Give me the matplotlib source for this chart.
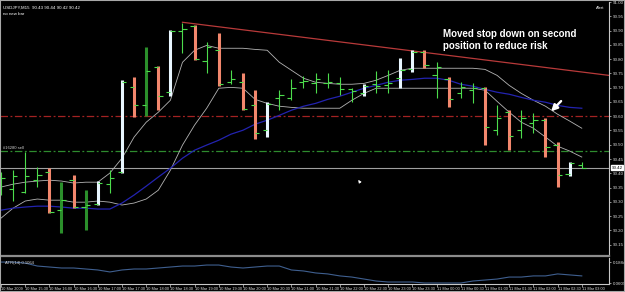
import matplotlib
matplotlib.use("Agg")
import matplotlib.pyplot as plt
from matplotlib.patches import Rectangle
from matplotlib.transforms import blended_transform_factory

plt.rcParams['font.family'] = ['Liberation Sans', 'DejaVu Sans']

# USDJPY M15, one bar per 15 minutes starting 10 Mar 2009 15:00
opens = [90.359, 90.345, 90.334, 90.376, 90.404, 90.271, 90.376, 90.282, 90.292, 90.362,
         90.404, 90.701, 90.638, 90.771, 90.684, 90.897, 90.915, 90.792, 90.831, 90.719,
         90.719, 90.638, 90.551, 90.663, 90.663, 90.719, 90.715, 90.715, 90.715, 90.694,
         90.680, 90.712, 90.708, 90.733, 90.764, 90.824, 90.743, 90.729, 90.680, 90.691,
         90.698, 90.551, 90.614, 90.551, 90.576, 90.586, 90.499, 90.397, 90.43]
highs = [90.404, 90.411, 90.474, 90.422, 90.418, 90.369, 90.394, 90.341, 90.373, 90.411,
         90.726, 90.736, 90.841, 90.775, 90.901, 90.925, 90.918, 90.859, 90.890, 90.761,
         90.750, 90.691, 90.649, 90.691, 90.729, 90.740, 90.750, 90.750, 90.736, 90.698,
         90.712, 90.757, 90.761, 90.803, 90.831, 90.831, 90.789, 90.736, 90.719, 90.715,
         90.701, 90.638, 90.621, 90.621, 90.610, 90.593, 90.509, 90.439, 90.44]
lows = [90.324, 90.303, 90.331, 90.352, 90.261, 90.191, 90.278, 90.201, 90.289, 90.331,
        90.401, 90.597, 90.600, 90.621, 90.670, 90.820, 90.796, 90.750, 90.705, 90.712,
        90.621, 90.520, 90.527, 90.621, 90.656, 90.698, 90.680, 90.698, 90.673, 90.649,
        90.670, 90.680, 90.680, 90.698, 90.754, 90.768, 90.663, 90.631, 90.663, 90.645,
        90.499, 90.534, 90.481, 90.523, 90.541, 90.457, 90.352, 90.390, 90.42]
closes = [90.383, 90.390, 90.390, 90.394, 90.264, 90.306, 90.282, 90.289, 90.366, 90.383,
          90.719, 90.638, 90.757, 90.670, 90.897, 90.904, 90.799, 90.841, 90.712, 90.729,
          90.624, 90.541, 90.642, 90.673, 90.698, 90.722, 90.729, 90.719, 90.694, 90.687,
          90.705, 90.705, 90.715, 90.761, 90.824, 90.778, 90.771, 90.659, 90.701, 90.698,
          90.562, 90.593, 90.530, 90.593, 90.586, 90.492, 90.394, 90.436, 90.42]
# g = plain green bar, d = dark green, s = salmon, w = white (indicator colouring)
bar_kind = list("ggggsdsdwg" "wsdswgsgsg" "sswggggggg" "wggwwsgsgg" "sgsggssw" "g")

ma_slow = [90.271, 90.278, 90.282, 90.285, 90.285, 90.282, 90.278, 90.278, 90.275, 90.275,
           90.296, 90.324, 90.355, 90.387, 90.418, 90.453, 90.481, 90.499, 90.516, 90.537,
           90.551, 90.572, 90.586, 90.603, 90.621, 90.635, 90.645, 90.659, 90.670, 90.684,
           90.698, 90.708, 90.719, 90.726, 90.729, 90.733, 90.733, 90.726, 90.712, 90.705,
           90.694, 90.684, 90.677, 90.666, 90.656, 90.649, 90.638, 90.631, 90.628]
band_upper = [90.352, 90.362, 90.369, 90.373, 90.376, 90.373, 90.366, 90.369, 90.369, 90.401,
              90.453, 90.527, 90.579, 90.614, 90.656, 90.789, 90.831, 90.848, 90.838, 90.838,
              90.838, 90.834, 90.831, 90.789, 90.761, 90.733, 90.719, 90.715, 90.712, 90.712,
              90.715, 90.726, 90.743, 90.761, 90.768, 90.768, 90.768, 90.768, 90.768, 90.768,
              90.764, 90.743, 90.708, 90.680, 90.656, 90.635, 90.607, 90.583, 90.558]
band_lower = [90.243, 90.278, 90.303, 90.310, 90.306, 90.306, 90.299, 90.299, 90.303, 90.299,
              90.289, 90.296, 90.310, 90.341, 90.411, 90.499, 90.569, 90.628, 90.698, 90.701,
              90.698, 90.659, 90.645, 90.635, 90.631, 90.628, 90.628, 90.628, 90.628, 90.656,
              90.680, 90.698, 90.698, 90.698, 90.698, 90.698, 90.698, 90.698, 90.698, 90.698,
              90.691, 90.652, 90.614, 90.579, 90.558, 90.527, 90.495, 90.478, 90.457]
atr = [0.188, 0.188, 0.182, 0.164, 0.158, 0.152, 0.152, 0.146, 0.140, 0.128,
       0.140, 0.146, 0.146, 0.152, 0.158, 0.164, 0.164, 0.170, 0.170, 0.158,
       0.152, 0.158, 0.164, 0.164, 0.140, 0.134, 0.122, 0.116, 0.104, 0.097,
       0.085, 0.073, 0.067, 0.067, 0.067, 0.061, 0.061, 0.061, 0.061, 0.073,
       0.079, 0.085, 0.097, 0.097, 0.104, 0.104, 0.116, 0.110, 0.104]

trend_x = [15, 50.25]
trend_y = [90.929, 90.743]
stop_level = 90.60
order_level = 90.478
bid = 90.42

time_labels = ["10 Mar 2009", "10 Mar 15:30", "10 Mar 16:00", "10 Mar 16:30", "10 Mar 17:00",
               "10 Mar 17:30", "10 Mar 18:00", "10 Mar 18:30", "10 Mar 19:00", "10 Mar 19:30",
               "10 Mar 20:00", "10 Mar 20:30", "10 Mar 21:00", "10 Mar 21:30", "10 Mar 22:00",
               "10 Mar 22:30", "10 Mar 23:00", "10 Mar 23:30", "11 Mar 00:00", "11 Mar 00:30",
               "11 Mar 01:00", "11 Mar 01:30", "11 Mar 02:00", "11 Mar 02:30", "11 Mar 03:00"]
price_ticks = [90.15, 90.20, 90.25, 90.30, 90.35, 90.40, 90.45, 90.50, 90.55,
               90.60, 90.65, 90.70, 90.75, 90.80, 90.85, 90.90, 90.95, 91.00]

GREEN = "#4cdc4c"
KIND_COLOR = {"d": "#2b8f2b", "s": "#f2876d", "w": "#e8f6ff"}
GRID = "#c8c8c8"

W, H = 625, 292


def px_rect(x0, y0, x1, y1):
    return [x0 / W, 1 - y1 / H, (x1 - x0) / W, (y1 - y0) / H]


fig = plt.figure(figsize=(W / 100, H / 100), dpi=100, facecolor="black")
ax = fig.add_axes(px_rect(0, 2, 609, 256), facecolor="black")
ax2 = fig.add_axes(px_rect(0, 258, 609, 284), facecolor="black")

n = len(opens)
xs = list(range(n))

# horizontal levels
ax.axhline(stop_level, color="#a32222", lw=0.9, dashes=(6, 2, 1.5, 2))
ax.axhline(order_level, color="#2e8b2e", lw=0.9, dashes=(6, 2, 1.5, 2))
ax.axhline(bid, color="#a0a0a0", lw=0.8)
ax.plot(trend_x, trend_y, color="#b83a3a", lw=0.9)

# indicator lines
ax.plot(xs, band_upper, color="#b4b4b4", lw=0.6)
ax.plot(xs, band_lower, color="#b4b4b4", lw=0.6)
ax.plot(xs, ma_slow, color="#2323b0", lw=0.9)

# bars
tick = 0.35
for i in xs:
    k = bar_kind[i]
    if k == "g":
        ax.vlines(i, lows[i], highs[i], color=GREEN, lw=0.8)
    else:
        ax.vlines(i, lows[i], highs[i], color=KIND_COLOR[k], lw=2.2)
    ax.hlines(opens[i], i - tick, i, color=GREEN, lw=0.8)
    ax.hlines(closes[i], i, i + tick, color=GREEN, lw=0.8)

ax.set_xlim(-1 / 12.1, 608 / 12.1)
ax.set_ylim(90.1105, 90.9986)
ax2.set_xlim(ax.get_xlim())
ax2.set_ylim(0.0549, 0.2127)

# ATR subwindow
ax2.plot(xs, atr, color="#3f5f8f", lw=0.8)
ax2.text(0.3, 0.185, "ATR(14) 0.1064", color="#d8d8d8", fontsize=3, va="center")

for a in (ax, ax2):
    a.spines["left"].set_visible(False)
    a.spines["right"].set_color(GRID)
    a.spines["right"].set_linewidth(0.8)
    a.yaxis.tick_right()
    a.tick_params(axis="y", colors=GRID, labelcolor="#dcdcdc", labelsize=3.2,
                  length=1.5, width=0.5, pad=1)
ax.spines["top"].set_visible(False)
ax.spines["bottom"].set_color("#8c8c8c")
ax.spines["bottom"].set_linewidth(1.6)
ax2.spines["top"].set_visible(False)
ax2.spines["bottom"].set_color(GRID)
ax2.spines["bottom"].set_linewidth(0.8)

ax.set_yticks(price_ticks)
ax.set_yticklabels([f"{p:.2f}" for p in price_ticks])
ax.set_xticks([])

ax2.set_yticks([0.1884, 0.0609])
ax2.set_yticklabels(["0.1884", "0.0609"])
ax2.set_xticks(range(0, n, 2))
ax2.set_xticklabels(time_labels, ha="left")
ax2.tick_params(axis="x", colors=GRID, labelcolor="#dcdcdc", labelsize=2.8,
                length=2, width=0.5, pad=0.5)

# current price box
tr = blended_transform_factory(ax.transAxes, ax.transData)
ax.text(1.004, bid, f"{bid:.2f}", transform=tr, fontsize=3.2, color="black",
        va="center", ha="left",
        bbox=dict(boxstyle="square,pad=0.15", fc="white", ec="white"))

# texts
ax.text(0.005, 0.985, "USDJPY,M15  90.43 90.44 90.42 90.42", transform=ax.transAxes,
        color="white", fontsize=3.2, va="top")
ax.text(0.005, 0.962, "no new bar", transform=ax.transAxes, color="white",
        fontsize=3.2, va="top")
ax.text(0.993, 0.985, "Alert", transform=ax.transAxes, color="white",
        fontsize=3, va="top", ha="right")
ax.text(0.2, order_level + 0.004, "#16280 sell", color="#d0d0d0", fontsize=3,
        va="bottom")
ax.text(36.55, 90.905, "Moved stop down on second\nposition to reduce risk",
        color="white", fontsize=7, fontweight="bold", va="top", ha="left",
        linespacing=1.25)

# pointer arrow and mouse cursor
ax.annotate("", xy=(45.3, 90.61), xytext=(46.45, 90.66),
            arrowprops=dict(arrowstyle="-|>", color="white", lw=1.7, mutation_scale=9))
ax.annotate("", xy=(29.4, 90.385), xytext=(29.8, 90.36),
            arrowprops=dict(arrowstyle="-|>", color="white", lw=0.6, mutation_scale=4))

fig.patches.append(Rectangle((0, 0), 1, 1, transform=fig.transFigure, fill=False,
                             edgecolor="#a8a8a8", lw=1.5))

fig.savefig("out.png", dpi=100, facecolor="black")
